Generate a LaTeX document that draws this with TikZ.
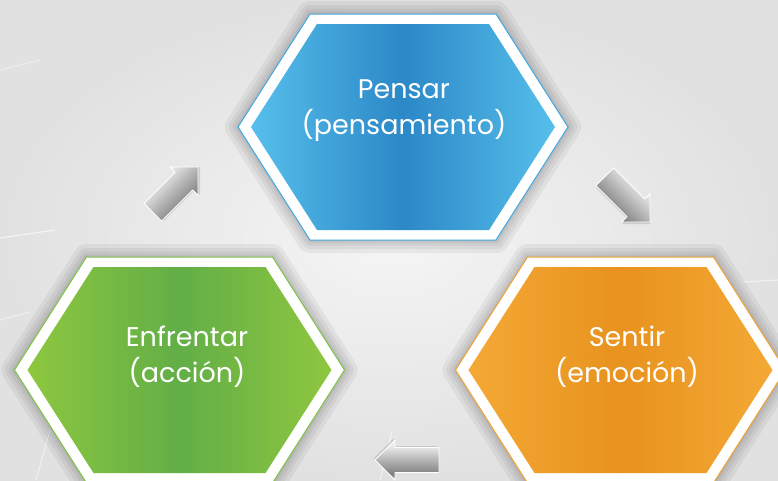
\documentclass[tikz,border=0pt]{standalone}
\usepackage{fontspec}
\setmainfont{Poppins}
\definecolor{bgout}{HTML}{E1E1E1}
\definecolor{bgin}{HTML}{F5F5F5}
\definecolor{blueedge}{HTML}{56BFEB}
\definecolor{bluemid}{HTML}{2C88C7}
\definecolor{blueline}{HTML}{3FA9E0}
\definecolor{greenedge}{HTML}{8EC73F}
\definecolor{greenmid}{HTML}{62AE47}
\definecolor{greenline}{HTML}{7CC242}
\definecolor{orangeedge}{HTML}{F4A934}
\definecolor{orangemid}{HTML}{E8921F}
\definecolor{orangeline}{HTML}{F0A030}
\definecolor{arrA}{HTML}{EDEDED}
\definecolor{arrB}{HTML}{B4B4B4}
\definecolor{arrC}{HTML}{7E7E7E}
\definecolor{arrD}{HTML}{C4C4C4}
\pgfdeclareverticalshading{metal}{100bp}{%
  color(0bp)=(arrD); color(25bp)=(arrD); color(32bp)=(arrC); color(50bp)=(arrB);
  color(68bp)=(arrA); color(75bp)=(arrA); color(100bp)=(arrA)}
\tikzset{
  txt/.style={text=white, align=center, font=\fontsize{27}{36}\selectfont, inner sep=0pt},
  hexshadow/.style={line join=round, draw=black, opacity=0.05},
  arrowshade/.style={shading=metal, draw=white, line width=0.9pt, line join=round},
}
\newcommand\myhex[5]{%
  \begin{scope}[shift={(#1)}]
    \coordinate (#5) at (0,0);
    \foreach \w in {26,18,11,5}{
      \draw[hexshadow, line width=\w pt] (-165,0) -- (-93,-113) -- (93,-113) -- (165,0) -- (93,113) -- (-93,113) -- cycle;}
    \filldraw[fill=white, draw=#4, line width=1pt] (-165,0) -- (-93,-113) -- (93,-113) -- (165,0) -- (93,113) -- (-93,113) -- cycle;
    \shade[left color=#2, right color=#2, middle color=#3] (-152,0) -- (-86,-103) -- (86,-103) -- (152,0) -- (86,103) -- (-86,103) -- cycle;
  \end{scope}}
\newcommand\blockarrow[4]{%
  \begin{scope}[shift={(#1)}, rotate=#2]
    \coordinate (#4) at (0,0);
    \fill[black, opacity=0.12, shift={(1.5,1.5)}] (0,-12.5) -- (44,-12.5) -- (44,-20) -- (64,0) -- (44,20) -- (44,12.5) -- (0,12.5) -- cycle;
    \shade[arrowshade, shading angle=#3] (0,-12.5) -- (44,-12.5) -- (44,-20) -- (64,0) -- (44,20) -- (44,12.5) -- (0,12.5) -- cycle;
  \end{scope}}
\begin{document}
\begin{tikzpicture}[x=1pt, y=-1pt]
  \useasboundingbox (0,0) rectangle (778,480);
  \shade[inner color=bgin, outer color=bgout] (0,0) rectangle (778,480);
  % faint scratches
  \draw[white, opacity=0.7, line width=1pt] (0,238) -- (55,230);
  \draw[white, opacity=0.6, line width=0.8pt] (0,320) -- (30,312);
  \draw[white, opacity=0.6, line width=0.8pt] (36,480) -- (50,430);
  \draw[white, opacity=0.7, line width=0.8pt] (380,480) -- (392,432);
  \draw[white, opacity=0.6, line width=1pt] (742,282) -- (778,280);
  \draw[white, opacity=0.5, line width=0.8pt] (0,70) -- (40,60);
  % hexagons
  \myhex{403,127}{blueedge}{bluemid}{blueline}{hexp}
  \myhex{179.5,370}{greenedge}{greenmid}{greenline}{hexe}
  \myhex{620.5,370}{orangeedge}{orangemid}{orangeline}{hexs}
  % texts
  \node[txt] (pensar) at (404,111) {Pensar\\(pensamiento)};
  \node[txt] (enfrentar) at (187,357) {Enfrentar\\(acción)};
  \node[txt] (sentir) at (627,357) {Sentir\\(emoción)};
  % arrows
  \blockarrow{152.75,212.25}{45}{45}{a1}
  \blockarrow{604.75,176.75}{-45}{-45}{a2}
  \blockarrow{439,460}{180}{0}{a3}
\end{tikzpicture}
\end{document}
